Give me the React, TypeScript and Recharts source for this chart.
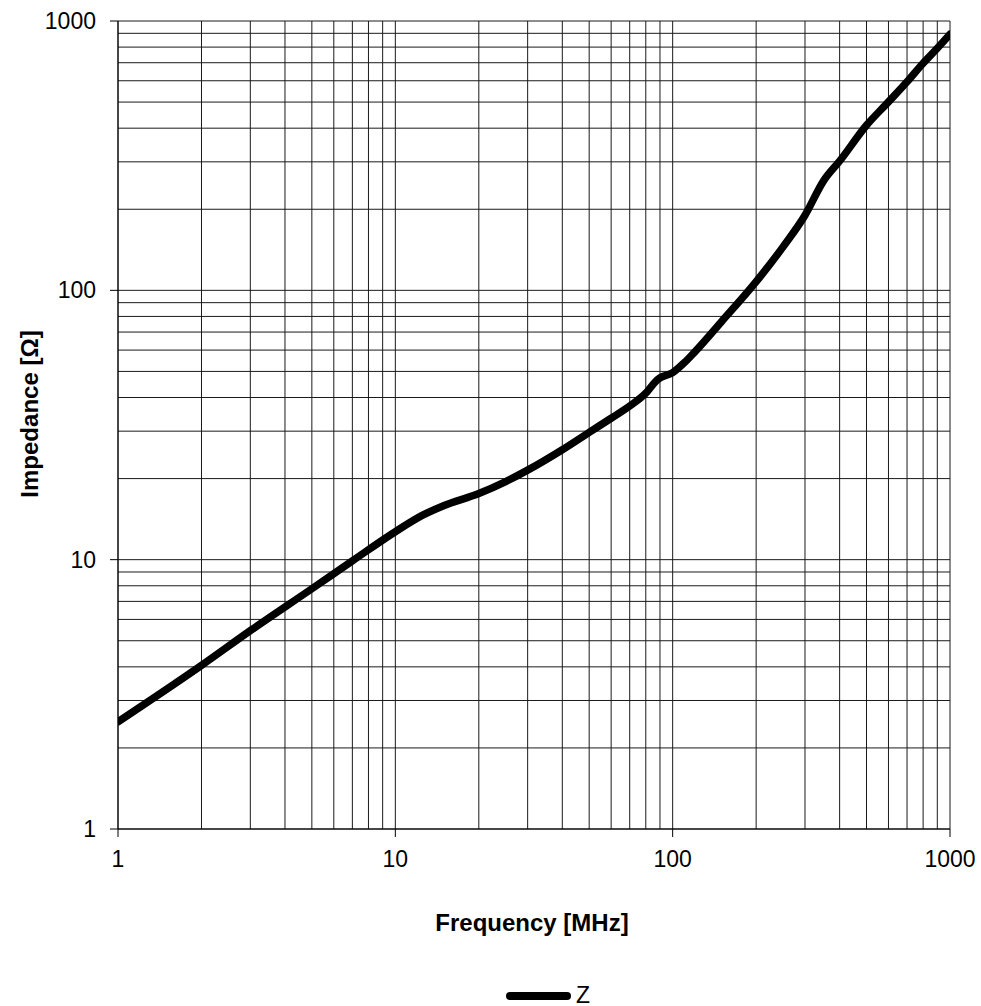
import React from "react";
import { LineChart, Line, XAxis, YAxis, ReferenceLine, Label } from "recharts";

const freqMHz = [1, 2, 3, 5, 7, 10, 12.5, 15, 20, 25, 30, 40, 50, 60, 70, 80, 87, 90, 100, 110, 120, 150, 200, 250, 300, 350, 400, 500, 600, 700, 800, 900, 1000];
const impedanceOhm = [2.5, 4.05, 5.45, 7.8, 9.9, 12.7, 14.6, 15.9, 17.6, 19.5, 21.5, 25.6, 29.7, 33.5, 37.2, 41.5, 46.0, 47.3, 49.5, 53.8, 59.0, 76.5, 107.7, 145, 190, 255, 302, 410, 501, 595, 697, 792, 893];

const majorTicks = [1, 10, 100, 1000];
const xGrid = [1, 2, 3, 4, 5, 6, 7, 8, 9, 10, 20, 30, 40, 50, 60, 70, 80, 90, 100, 200, 300, 400, 500, 600, 700, 800, 900, 1000];
const yGrid = xGrid;

const data = freqMHz.map((f, i) => ({ f, z: impedanceOhm[i] }));

const FONT = '"Liberation Sans", Arial, sans-serif';
const GRID = "#1a1a1a";

function YTitle() {
  return (
    <text
      x={38}
      y={414}
      transform="rotate(-90 38 414)"
      textAnchor="middle"
      fontFamily={FONT}
      fontSize={24}
      fontWeight="bold"
      fill="#000"
    >
      Impedance [Ω]
    </text>
  );
}

function XTitle() {
  return (
    <text x={532} y={931} textAnchor="middle" fontFamily={FONT} fontSize={24} fontWeight="bold" fill="#000">
      Frequency [MHz]
    </text>
  );
}

export default function App() {
  return (
    <div style={{ position: "absolute", left: 0, top: 0, width: 981, height: 1006, background: "#fff" }}>
      <LineChart width={981} height={1006} data={data} margin={{ top: 21, right: 31, left: 0, bottom: 0 }}>
        {xGrid.map((v) => (
          <ReferenceLine key={"x" + v} x={v} stroke={GRID} strokeWidth={1} />
        ))}
        {yGrid.map((v) => (
          <ReferenceLine key={"y" + v} y={v} stroke={GRID} strokeWidth={1} />
        ))}
        <XAxis
          dataKey="f"
          type="number"
          scale="log"
          domain={[1, 1000]}
          ticks={majorTicks}
          allowDataOverflow
          height={177}
          tickSize={8}
          tickMargin={14}
          stroke="#000"
          tick={{ fill: "#000", fontSize: 23, fontFamily: FONT }}
        >
          <Label content={<XTitle />} />
        </XAxis>
        <YAxis
          type="number"
          scale="log"
          domain={[1, 1000]}
          ticks={majorTicks}
          allowDataOverflow
          width={118}
          tickSize={8}
          tickMargin={14}
          stroke="#000"
          tick={{ fill: "#000", fontSize: 23, fontFamily: FONT }}
        >
          <Label content={<YTitle />} />
        </YAxis>
        <Line
          type="monotone"
          dataKey="z"
          stroke="#000"
          strokeWidth={7.5}
          strokeLinecap="round"
          dot={false}
          activeDot={false}
          isAnimationActive={false}
        />
      </LineChart>
      <div style={{ position: "absolute", left: 500, top: 980, width: 110, height: 26 }}>
        <svg width={110} height={26}>
          <line x1={10} y1={16} x2={67} y2={16} stroke="#000" strokeWidth={8} strokeLinecap="round" />
          <text x={76} y={22.5} fontFamily={FONT} fontSize={23} fill="#000">
            Z
          </text>
        </svg>
      </div>
    </div>
  );
}
